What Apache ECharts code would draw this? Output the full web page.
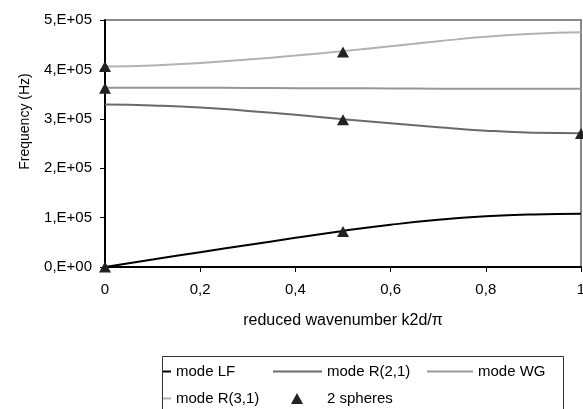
<!DOCTYPE html>
<html>
<head>
<meta charset="utf-8">
<style>
  html, body { margin: 0; padding: 0; background: #fff; }
  #chart { width: 583px; height: 409px; }
</style>
<script src="https://cdn.jsdelivr.net/npm/echarts@6/dist/echarts.min.js"></script>
</head>
<body>
<div id="chart"></div>
<script>
// reduced wavenumber k2d/pi
var kValues = [0, 0.1, 0.2, 0.3, 0.4, 0.5, 0.6, 0.7, 0.8, 0.9, 1];
// frequencies (Hz) per mode
var modeLF  = [0, 15000, 30000, 44500, 59000, 73000, 85500, 95500, 102500, 106500, 108000];
var modeR21 = [329000, 327000, 323000, 316000, 308000, 299000, 291000, 283000, 276000, 272000, 271000];
var modeWG  = [363000, 363000, 363000, 362500, 362000, 362000, 361500, 361000, 361000, 361000, 361000];
var modeR31 = [406000, 408000, 413000, 420000, 428000, 437000, 447000, 457000, 466000, 472000, 475000];
// 2 spheres results
var sphereK    = [0, 0, 0, 0.5, 0.5, 0.5, 1];
var sphereFreq = [0, 362000, 406000, 72000, 298000, 435000, 270000];

var font = '"Liberation Sans", Arial, sans-serif';

function pairs(xs, ys) {
  return xs.map(function (x, i) { return [x, ys[i]]; });
}

function sciLabel(v) {
  if (v === 0) return '0,E+00';
  var e = Math.floor(Math.log10(v));
  var m = Math.round(v / Math.pow(10, e));
  return m + ',E+' + (e < 10 ? '0' + e : e);
}

var chart = echarts.init(document.getElementById('chart'));

function lineSeries(name, data, color) {
  return {
    name: name,
    type: 'line',
    data: pairs(kValues, data),
    smooth: true,
    symbol: 'none',
    color: color,
    lineStyle: { color: color, width: 2 },
    z: 2
  };
}

function legendItem(name, left, top, width, icon, extra) {
  var l = {
    data: [name],
    left: left,
    top: top,
    padding: 0,
    icon: icon,
    itemWidth: width,
    itemHeight: icon === 'rect' ? 2 : 11,
    selectedMode: false,
    textStyle: { fontFamily: font, fontSize: 15, color: '#000' }
  };
  if (extra) l.textStyle.padding = extra;
  return l;
}

chart.setOption({
  animation: false,
  grid: {
    left: 105, right: 2, top: 20, bottom: 142,
    outerBoundsMode: 'none',
    show: true, borderColor: '#888', borderWidth: 2
  },
  xAxis: {
    type: 'value',
    min: 0, max: 1, interval: 0.2,
    name: 'reduced wavenumber k2d/\u03c0',
    nameLocation: 'middle',
    nameGap: 46,
    nameTextStyle: { fontFamily: font, fontSize: 16, color: '#000' },
    axisLine: { lineStyle: { color: '#000', width: 2 } },
    axisTick: { length: 5, lineStyle: { color: '#000' } },
    axisLabel: {
      margin: 15,
      fontFamily: font, fontSize: 15, color: '#000',
      formatter: function (v) { return String(v).replace('.', ','); }
    },
    splitLine: { show: false }
  },
  yAxis: {
    type: 'value',
    min: 0, max: 500000, interval: 100000,
    name: 'Frequency (Hz)',
    nameLocation: 'middle',
    nameRotate: 90,
    nameGap: 73,
    nameTextStyle: { fontFamily: font, fontSize: 14, color: '#000', padding: [0, 0, 0, 44] },
    axisLine: { show: true, lineStyle: { color: '#000', width: 2 } },
    axisTick: { show: true, length: 5, lineStyle: { color: '#000' } },
    axisLabel: {
      margin: 13,
      fontFamily: font, fontSize: 15, color: '#000',
      formatter: sciLabel
    },
    splitLine: { show: false }
  },
  legend: [
    legendItem('mode LF', 163, 364, 8, 'rect'),
    legendItem('mode R(2,1)', 273, 364, 49, 'rect'),
    legendItem('mode WG', 427, 364, 46, 'rect'),
    legendItem('mode R(3,1)', 163, 391, 8, 'rect'),
    legendItem('2 spheres', 291, 391, 12, 'triangle', [0, 0, 0, 19])
  ],
  graphic: [{
    type: 'rect',
    shape: { x: 162.5, y: 356.5, width: 401, height: 70 },
    style: { fill: null, stroke: '#333', lineWidth: 1 },
    silent: true
  }],
  series: [
    lineSeries('mode LF', modeLF, '#000000'),
    lineSeries('mode R(2,1)', modeR21, '#6a6a6a'),
    lineSeries('mode WG', modeWG, '#979797'),
    lineSeries('mode R(3,1)', modeR31, '#b2b2b2'),
    {
      name: '2 spheres',
      type: 'scatter',
      data: pairs(sphereK, sphereFreq),
      symbol: 'triangle',
      symbolSize: [12, 11],
      color: '#222222',
      itemStyle: { color: '#222222', opacity: 1 },
      clip: false,
      z: 5
    }
  ]
});
</script>
</body>
</html>
